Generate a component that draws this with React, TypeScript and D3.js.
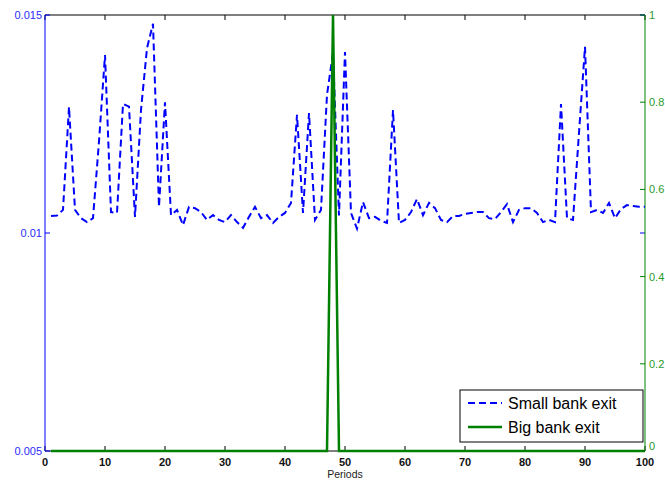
import React from "react";
import * as d3 from "d3";

const periods: number[] = Array.from({ length: 100 }, (_, i) => i + 1);

const smallBankExit: number[] = [
  0.01039, 0.0104, 0.01053, 0.01289, 0.01053, 0.01034, 0.01025, 0.01034, 0.0121, 0.01408,
  0.01048, 0.01046, 0.01296, 0.0129, 0.01037, 0.01282, 0.01424, 0.0148, 0.0106, 0.013,
  0.01041, 0.01053, 0.01018, 0.0106, 0.01057, 0.01048, 0.0103, 0.01041, 0.0103, 0.01025,
  0.01041, 0.01025, 0.01012, 0.01037, 0.0106, 0.01034, 0.01041, 0.01023, 0.01037, 0.01046,
  0.01069, 0.01271, 0.01046, 0.01275, 0.0103, 0.01053, 0.01317, 0.01413, 0.0104, 0.01415,
  0.01046, 0.0101, 0.01071, 0.01034, 0.01037, 0.01028, 0.01023, 0.01282, 0.01023, 0.0103,
  0.01048, 0.01078, 0.01041, 0.01069, 0.01057, 0.0103, 0.01025, 0.01039, 0.01039, 0.01044,
  0.01046, 0.01048, 0.01048, 0.01034, 0.01032, 0.01048, 0.01066, 0.01025, 0.01053, 0.01057,
  0.01057, 0.01046, 0.01025, 0.0103, 0.01025, 0.01296, 0.01034, 0.0103, 0.0123, 0.01427,
  0.01048, 0.01053, 0.01046, 0.01069, 0.01034, 0.01055, 0.01064, 0.01062, 0.0106, 0.0106,
];

const bigBankExit: number[] = periods.map((p) => (p === 48 ? 1 : 0));

const xTicks: number[] = [0, 10, 20, 30, 40, 50, 60, 70, 80, 90, 100];
const leftTicks: number[] = [0.005, 0.01, 0.015];
const leftTickLabels: string[] = ["0.005", "0.01", "0.015"];
const rightTicks: number[] = [0, 0.2, 0.4, 0.6, 0.8, 1];
const rightTickLabels: string[] = ["0", "0.2", "0.4", "0.6", "0.8", "1"];
const legendLabels: string[] = ["Small bank exit", "Big bank exit"];

const W = 665;
const H = 482;
const M = { left: 45, right: 20, top: 15, bottom: 31 };
const BLUE = "#0000ff";
const GREEN = "#008000";
const FONT = "'Liberation Sans', Arial, Helvetica, sans-serif";

export default function App() {
  const x = d3.scaleLinear().domain([0, 100]).range([M.left, W - M.right]);
  const yL = d3.scaleLinear().domain([0.005, 0.015]).range([H - M.bottom, M.top]);
  const yR = d3.scaleLinear().domain([0, 1]).range([H - M.bottom, M.top]);

  const blueLine = d3
    .line<number>()
    .x((_, i) => x(periods[i]))
    .y((d) => yL(d))(smallBankExit) as string;
  const greenLine = d3
    .line<number>()
    .x((_, i) => x(periods[i]))
    .y((d) => yR(d))(bigBankExit) as string;

  const x0 = M.left;
  const x1 = W - M.right;
  const yTop = M.top;
  const yBot = H - M.bottom;
  const tl = 5;

  const lgX = 460;
  const lgY = 390;
  const lgW = 183;
  const lgH = 52;

  return (
    <svg
      width={W}
      height={H}
      style={{ position: "absolute", left: 0, top: 0, background: "#fff" }}
      fontFamily={FONT}
    >
      <rect x={0} y={0} width={W} height={H} fill="#fff" />
      {/* top and bottom axes */}
      <line x1={x0} x2={x1} y1={yTop} y2={yTop} stroke="#000" strokeWidth={1} />
      <line x1={x0} x2={x1} y1={yBot} y2={yBot} stroke="#000" strokeWidth={1} />
      {xTicks.map((t) => (
        <g key={"xt" + t}>
          <line x1={x(t)} x2={x(t)} y1={yBot} y2={yBot - tl} stroke="#000" />
          <line x1={x(t)} x2={x(t)} y1={yTop} y2={yTop + tl} stroke="#000" />
          <text
            x={x(t)}
            y={yBot + 15}
            textAnchor="middle"
            fontSize={11}
            fontWeight="bold"
            fill="#111"
          >
            {t}
          </text>
        </g>
      ))}
      <text x={(x0 + x1) / 2} y={yBot + 27} textAnchor="middle" fontSize={10.5} fill="#222">
        Periods
      </text>

      {/* left axis */}
      <line x1={x0} x2={x0} y1={yTop} y2={yBot} stroke={BLUE} strokeWidth={1} />
      {leftTicks.map((t, i) => (
        <g key={"lt" + t}>
          <line x1={x0} x2={x0 + tl} y1={yL(t)} y2={yL(t)} stroke={BLUE} />
          <line x1={x1} x2={x1 - tl} y1={yL(t)} y2={yL(t)} stroke={BLUE} />
          <text
            x={x0 - 3}
            y={yL(t) + 4}
            textAnchor="end"
            fontSize={11}
            fill="#2b2bff"
          >
            {leftTickLabels[i]}
          </text>
        </g>
      ))}

      {/* right axis */}
      <line x1={x1} x2={x1} y1={yTop} y2={yBot} stroke={GREEN} strokeWidth={1} />
      {rightTicks.map((t, i) => (
        <g key={"rt" + t}>
          <line x1={x1} x2={x1 - tl} y1={yR(t)} y2={yR(t)} stroke={GREEN} />
          <text
            x={x1 + 4}
            y={t === 0 ? yR(t) - 1 : yR(t) + 4}
            textAnchor="start"
            fontSize={11}
            fill="#2a9a2a"
          >
            {rightTickLabels[i]}
          </text>
        </g>
      ))}

      {/* data */}
      <path d={blueLine} fill="none" stroke={BLUE} strokeWidth={2} strokeDasharray="7,4" />
      <path d={greenLine} fill="none" stroke={GREEN} strokeWidth={2.5} />

      {/* legend */}
      <rect x={lgX} y={lgY} width={lgW} height={lgH} fill="#fff" stroke="#000" strokeWidth={1} />
      <line
        x1={lgX + 8}
        x2={lgX + 42}
        y1={lgY + 13}
        y2={lgY + 13}
        stroke={BLUE}
        strokeWidth={2}
        strokeDasharray="7,4"
      />
      <text x={lgX + 48} y={lgY + 19} fontSize={16} fill="#000">
        {legendLabels[0]}
      </text>
      <line
        x1={lgX + 8}
        x2={lgX + 42}
        y1={lgY + 37}
        y2={lgY + 37}
        stroke={GREEN}
        strokeWidth={2.5}
      />
      <text x={lgX + 48} y={lgY + 43} fontSize={16} fill="#000">
        {legendLabels[1]}
      </text>
    </svg>
  );
}
